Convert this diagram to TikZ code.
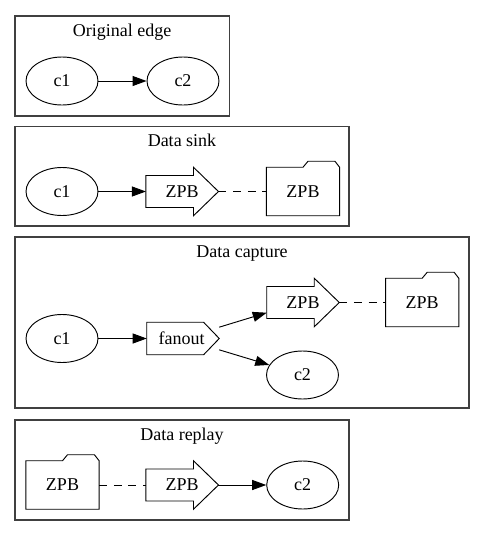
\documentclass[tikz,border=0pt]{standalone}
\usepackage{fontspec}
\setmainfont{Liberation Serif}
\newfontfamily\gvfont{Liberation Serif}
\usetikzlibrary{shapes.geometric,arrows.meta}
\newcommand\rarrowpath[1]{\path[outline] ([yshift=12pt]#1.west) -- ([xshift=-18.75pt,yshift=12pt]#1.east) -- ([xshift=-18.75pt]#1.north east) -- (#1.east) -- ([xshift=-18.75pt]#1.south east) -- ([xshift=-18.75pt,yshift=-12pt]#1.east) -- ([yshift=-12pt]#1.west) -- cycle;}
\newcommand\folderpath[1]{\path[outline] (#1.south west) -- (#1.north west) -- (#1.north) -- ([xshift=3.75pt,yshift=4.5pt]#1.north) -- ([xshift=-3.5pt,yshift=4.5pt]#1.north east) -- (#1.north east) -- (#1.south east) -- cycle;}
\newcommand\cdspath[1]{\path[outline] (#1.south west) -- (#1.north west) -- ([xshift=-11.75pt]#1.north east) -- (#1.east) -- ([xshift=-11.75pt]#1.south east) -- cycle;}
\begin{document}
\begin{tikzpicture}[x=0.75pt,y=-0.75pt,
  every node/.style={font=\gvfont\fontsize{13.5}{16}\selectfont},
  cluster/.style={draw=black!75,line width=0.8pt},
  title/.style={anchor=base,inner sep=0pt},
  oval/.style={ellipse,draw,line width=0.7pt,minimum width=54pt,minimum height=36pt,inner sep=0pt},
  box/.style={rectangle,inner sep=0pt,minimum width=54pt,minimum height=36pt},
  fbox/.style={rectangle,inner sep=0pt,minimum width=54.5pt,minimum height=36pt},
  cdsbox/.style={rectangle,inner sep=0pt,minimum width=54pt,minimum height=24pt},
  arr/.style={-{Triangle[length=10.5pt,width=7.5pt]},line width=0.7pt},
  dsh/.style={line width=0.7pt,dash pattern=on 6pt off 5pt},
  outline/.style={draw,line width=0.7pt,line join=miter}
]
\useasboundingbox (0,0) rectangle (485,536);

% clusters
\draw[cluster] (15,16) rectangle (229.5,116);
\draw[cluster] (15,126.5) rectangle (349,226);
\draw[cluster] (15,237) rectangle (469,408);
\draw[cluster] (15,420) rectangle (349,520);

\node[title] (t1) at (122.2,36) {Original edge};
\node[title] (t2) at (182,146.5) {Data sink};
\node[title] (t3) at (242,257) {Data capture};
\node[title] (t4) at (182,440) {Data replay};

% Original edge
\node[oval] (oc1) at (62,81) {c1};
\node[oval] (oc2) at (183,81) {c2};
\draw[arr] (oc1) -- (oc2);

% Data sink
\node[oval] (sc1) at (62,191.5) {c1};
\node[box] (szpb) at (182.2,191.5) {ZPB};
\rarrowpath{szpb}
\node[fbox] (sfold) at (303,191.5) {ZPB};
\folderpath{sfold}
\draw[arr] (sc1) -- (szpb);
\draw[dsh] (szpb) -- (sfold);

% Data capture
\node[oval] (cc1) at (62,338.5) {c1};
\node[cdsbox] (cfan) at (183,338.5) {\hspace*{-2pt}fanout};
\cdspath{cfan}
\node[box] (czpb) at (303,302.5) {ZPB};
\rarrowpath{czpb}
\node[fbox] (cfold) at (422.2,302.5) {ZPB};
\folderpath{cfold}
\node[oval] (cc2) at (302.5,375) {c2};
\draw[arr] (cc1) -- (cfan);
\draw[arr] ([yshift=8.5pt]cfan.east) -- ([yshift=-7.65pt]czpb.west);
\draw[arr] ([yshift=-8.5pt]cfan.east) -- (cc2);
\draw[dsh] (czpb) -- (cfold);

% Data replay
\node[fbox] (rfold) at (62.5,485) {ZPB};
\folderpath{rfold}
\node[box] (rzpb) at (182.2,485) {ZPB};
\rarrowpath{rzpb}
\node[oval] (rc2) at (302.7,485) {c2};
\draw[dsh] (rfold) -- (rzpb);
\draw[arr] (rzpb) -- (rc2);
\end{tikzpicture}
\end{document}
